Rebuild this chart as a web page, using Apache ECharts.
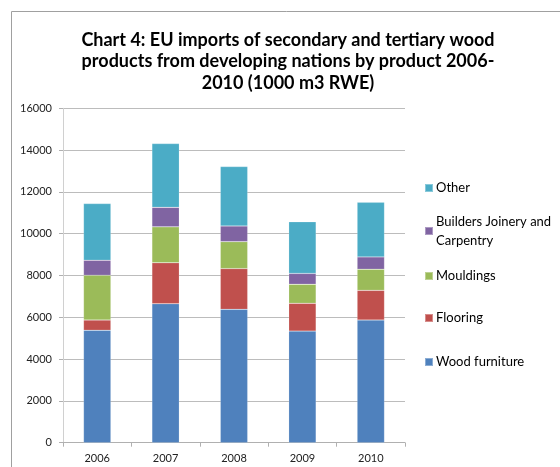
<!DOCTYPE html>
<html>
<head>
<meta charset="utf-8">
<script src="https://cdn.jsdelivr.net/npm/echarts@6/dist/echarts.min.js"></script>
<style>
html,body{margin:0;padding:0;background:#fff;}
#chart{width:560px;height:467px;}
</style>
</head>
<body>
<div id="chart"></div>
<script>
const categories = ['2006', '2007', '2008', '2009', '2010'];
const woodFurniture = [5380, 6650, 6380, 5340, 5870];
const flooring = [490, 1960, 1950, 1330, 1420];
const mouldings = [2140, 1720, 1290, 910, 1010];
const buildersJoinery = [720, 930, 750, 520, 590];
const other = [2710, 3050, 2840, 2470, 2610];
const yTicks = [0, 2000, 4000, 6000, 8000, 10000, 12000, 14000, 16000];

const seriesNames = ['Wood furniture', 'Flooring', 'Mouldings', 'Builders Joinery and Carpentry', 'Other'];
const seriesData = [woodFurniture, flooring, mouldings, buildersJoinery, other];
const colors = ['#4F81BD', '#C0504D', '#9BBB59', '#8064A2', '#4BACC6'];

const font = 'Lato, "Open Sans", sans-serif';
const chart = echarts.init(document.getElementById('chart'));

// legend item centers (px)
const legendCenters = {
  'Other': 188,
  'Builders Joinery and Carpentry': 231,
  'Mouldings': 276,
  'Flooring': 318,
  'Wood furniture': 362
};
const lineH = 19;
const legends = Object.keys(legendCenters).map(name => {
  const multi = name === 'Builders Joinery and Carpentry';
  const c = legendCenters[name];
  return {
    data: [name],
    orient: 'vertical',
    left: 424,
    top: multi ? c - 1.5 * lineH : c - lineH / 2,
    itemWidth: 8,
    itemHeight: 8,
    itemGap: 0,
    padding: 0,
    icon: 'rect',
    selectedMode: false,
    formatter: multi ? 'Builders Joinery and\nCarpentry' : '{name}',
    textStyle: {
      fontFamily: font,
      fontSize: 13,
      color: '#000',
      lineHeight: lineH,
      padding: multi ? [lineH, 0, 0, -2] : [0, 0, 0, -2]
    }
  };
});

const option = {
  animation: false,
  color: colors,
  textStyle: { fontFamily: font },
  title: {
    text: 'Chart 4: EU imports of secondary and tertiary wood\nproducts from developing nations by product 2006-\n2010 (1000 m3 RWE)',
    left: 283,
    top: 24,
    textAlign: 'center',
    textStyle: {
      fontFamily: font,
      fontSize: 18,
      fontWeight: 'bold',
      color: '#000',
      lineHeight: 21.5
    }
  },
  legend: legends,
  grid: { left: 63, right: 155, top: 108.3, bottom: 24.3, containLabel: false },
  xAxis: {
    type: 'category',
    data: categories,
    axisLine: { lineStyle: { color: '#b0b0b0', width: 1 } },
    axisTick: { show: true, length: 4, lineStyle: { color: '#b0b0b0' }, alignWithLabel: false },
    axisLabel: { fontFamily: font, fontSize: 11, color: '#222', margin: 10 }
  },
  yAxis: {
    type: 'value',
    min: 0,
    max: 16000,
    interval: 2000,
    axisLine: { show: true, lineStyle: { color: '#d0d0d0' } },
    axisTick: { show: true, length: 4, lineStyle: { color: '#b0b0b0' } },
    splitLine: { lineStyle: { color: '#bcbcbc' } },
    axisLabel: {
      fontFamily: font, fontSize: 11, color: '#222', margin: 11,
      formatter: v => yTicks.includes(v) ? String(v) : ''
    }
  },
  graphic: [{
    type: 'rect',
    shape: { x: 11.5, y: 11.5, width: 700, height: 700 },
    style: { fill: 'none', stroke: '#a0a0a0', lineWidth: 1 },
    silent: true,
    z: -1
  }],
  series: seriesNames.map((name, i) => ({
    name: name,
    type: 'bar',
    stack: 'total',
    data: seriesData[i],
    barWidth: '40%',
    itemStyle: { color: colors[i], borderColor: 'rgba(255,255,255,0.35)', borderWidth: 0.5 }
  }))
};
chart.setOption(option);
</script>
</body>
</html>
